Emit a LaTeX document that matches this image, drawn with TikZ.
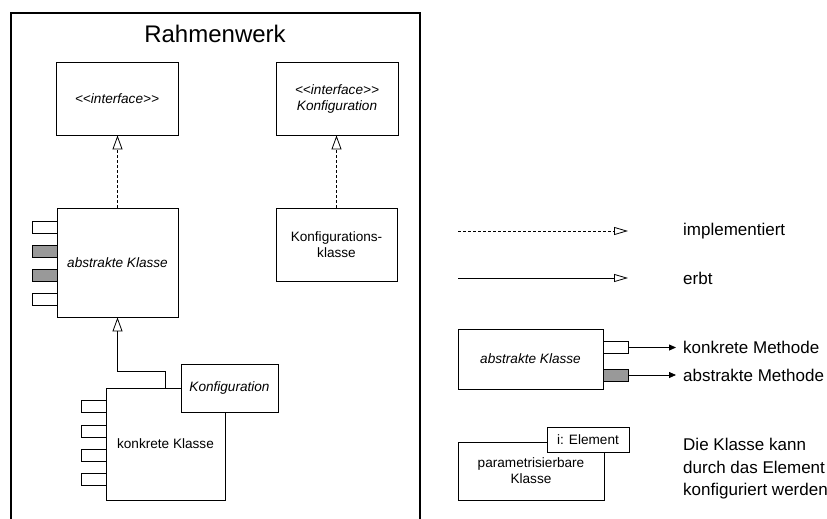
\documentclass[tikz,border=0pt]{standalone}
\usepackage{fontspec}
\setmainfont{Liberation Sans}
\usetikzlibrary{arrows.meta}
\definecolor{stubgray}{HTML}{999999}

\begin{document}
\begin{tikzpicture}[x=1pt,y=-1pt,
  box/.style={draw, line width=0.9pt, fill=white, inner sep=0pt, align=center,
    font=\fontsize{13.6}{16}\selectfont},
  stub/.style={draw, line width=0.9pt, fill=white, inner sep=0pt,
    minimum width=25pt, minimum height=12pt},
  abstub/.style={stub, fill=stubgray},
  frame/.style={draw, line width=1.5pt},
  impl/.style={draw, line width=0.8pt, dash pattern=on 3pt off 2pt,
    -{Triangle[open, length=14pt, width=10pt, line width=0.8pt]}},
  inh/.style={draw, line width=0.8pt,
    -{Triangle[open, length=14pt, width=10pt, line width=0.8pt]}},
  legimpl/.style={impl, -{Triangle[open, length=14pt, width=8pt, line width=0.8pt]}},
  leginh/.style={inh, -{Triangle[open, length=14pt, width=8pt, line width=0.8pt]}},
  point/.style={draw, line width=0.8pt, -{Triangle[length=7pt, width=6pt]}},
  legtext/.style={anchor=west, inner sep=0pt, align=left,
    font=\fontsize{17}{22.5}\selectfont},
]
\useasboundingbox (0,0) rectangle (827,519);
\clip (0,0) rectangle (827,519);

% framework frame, open at the bottom
\draw[frame] (11,530) -- (11,13) -- (420,13) -- (420,530);
\node[font=\fontsize{24}{28}\selectfont] (title) at (215,34) {Rahmenwerk};

% interfaces
\node[box, minimum width=122pt, minimum height=73pt] (iface) at (117,98.5)
  {\itshape {<}{<}interface{>}{>}};
\node[box, minimum width=122pt, minimum height=73pt] (kiface) at (337,98.5)
  {\itshape {<}{<}interface{>}{>}\\\itshape Konfiguration};

% abstract class with its methods
\node[box, minimum width=121pt, minimum height=109pt] (abs) at (117.5,262.5)
  {\itshape abstrakte Klasse};
\node[stub]   (a1) at (44.5,227) {};
\node[abstub] (a2) at (44.5,251) {};
\node[abstub] (a3) at (44.5,275) {};
\node[stub]   (a4) at (44.5,299) {};

% configuration class
\node[box, minimum width=121pt, minimum height=73pt] (kkl) at (336.5,244.5)
  {Konfigurations-\\klasse};

% concrete class with its methods and parameter
\node[box, minimum width=119pt, minimum height=112pt] (conc) at (165.5,444)
  {konkrete Klasse};
\node[stub] (c1) at (93.5,406.5) {};
\node[stub] (c2) at (93.5,431) {};
\node[stub] (c3) at (93.5,455) {};
\node[stub] (c4) at (93.5,479) {};
\node[box, minimum width=97pt, minimum height=48pt] (param) at (229.5,388)
  {\itshape Konfiguration};

% relations
\draw[impl] (abs.north) -- (abs.north |- iface.south);
\draw[impl] (kkl.north) -- (kkl.north |- kiface.south);
\draw[inh] (conc.north) -- ++(0,-16) -| (abs.south);

% legend: relation kinds
\coordinate (li1) at (458,231);
\coordinate (li2) at (628,231);
\coordinate (le1) at (458,278);
\coordinate (le2) at (628,278);
\draw[legimpl] (li1) -- (li2);
\draw[leginh] (le1) -- (le2);
\node[legtext] (timpl) at (683,231) {implementiert};
\node[legtext] (terbt) at (683,278) {erbt};

% legend: methods
\node[box, minimum width=145pt, minimum height=60pt] (labs) at (530.5,359)
  {\itshape abstrakte Klasse};
\node[stub]   (lm1) at (616,347.5) {};
\node[abstub] (lm2) at (616,375) {};
\node[legtext] (tkm) at (683,347.5) {konkrete Methode};
\node[legtext] (tam) at (683,375) {abstrakte Methode};
\draw[point, shorten >=7pt] (lm1.east) -- (tkm.west);
\draw[point, shorten >=7pt] (lm2.east) -- (tam.west);

% legend: parametrisable class
\node[box, minimum width=146pt, minimum height=58pt] (lpar) at (531,471)
  {parametrisierbare\\Klasse};
\node[box, minimum width=82pt, minimum height=25pt] (lel) at (588,439.5)
  {i: Element};
\node[legtext] (tpar) at (683,469)
  {Die Klasse kann\\durch das Element\\konfiguriert werden};
\end{tikzpicture}
\end{document}
